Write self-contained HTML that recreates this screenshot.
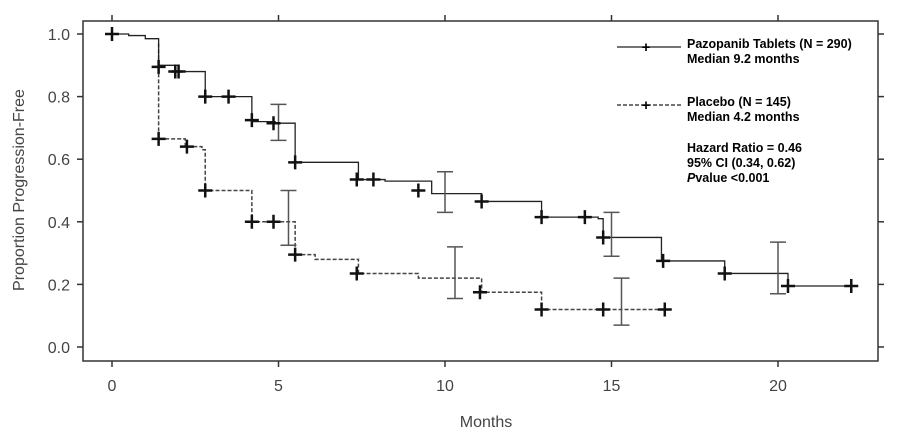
<!DOCTYPE html>
<html><head><meta charset="utf-8"><style>
body{margin:0;background:#fff}
svg{display:block;font-family:"Liberation Sans",Arial,sans-serif}
.ax{font-size:16px;fill:#444}
.lg{font-size:12.5px;font-weight:bold;fill:#000}
</style></head><body>
<svg id="chart" width="900" height="445" viewBox="0 0 900 445">
<rect x="83" y="21" width="795" height="340" fill="none" stroke="#333" stroke-width="1.5"/>
<g id="axes"></g>
<g id="series"></g>
<text class="ax" transform="translate(24,190) rotate(-90)" text-anchor="middle">Proportion Progression-Free</text>
<text class="ax" x="486" y="427" text-anchor="middle">Months</text>
<g>
<line x1="617" y1="47" x2="681" y2="47" stroke="#222" stroke-width="1.3"/>
<text x="646" y="52" text-anchor="middle" font-size="15" font-weight="bold">+</text>
<text class="lg" x="687" y="48">Pazopanib Tablets (N = 290)</text>
<text class="lg" x="687" y="63">Median 9.2 months</text>
<line x1="617" y1="105" x2="681" y2="105" stroke="#222" stroke-width="1.3" stroke-dasharray="4,2"/>
<text x="646" y="110" text-anchor="middle" font-size="15" font-weight="bold">+</text>
<text class="lg" x="687" y="106">Placebo (N = 145)</text>
<text class="lg" x="687" y="121">Median 4.2 months</text>
<text class="lg" x="687" y="152">Hazard Ratio = 0.46</text>
<text class="lg" x="687" y="167">95% CI (0.34, 0.62)</text>
<text class="lg" x="687" y="182"><tspan font-style="italic">P</tspan>value &lt;0.001</text>
</g>
</svg>
<script>
const xTicks=[0,5,10,15,20];
const yTicks=[0.0,0.2,0.4,0.6,0.8,1.0];
const yTickLabels=["0.0","0.2","0.4","0.6","0.8","1.0"];
const pazTimes=[0,0.5,1.0,1.4,2.0,2.8,4.2,4.9,5.5,7.4,8.2,9.6,11.1,12.9,14.6,14.75,16.5,18.4,20.3];
const pazValues=[1.0,0.995,0.985,0.90,0.88,0.80,0.72,0.715,0.59,0.535,0.53,0.49,0.465,0.415,0.41,0.35,0.275,0.235,0.195];
const pazEnd=22.2;
const pazCensorT=[0,1.4,1.9,2.0,2.8,3.5,4.2,4.85,5.5,7.35,7.85,9.2,11.1,12.9,14.2,14.75,16.55,18.4,20.3,22.2];
const pazCensorV=[1.0,0.895,0.88,0.88,0.80,0.80,0.725,0.715,0.59,0.535,0.535,0.50,0.465,0.415,0.415,0.35,0.275,0.235,0.195,0.195];
const pazErrX=[5.0,10.0,15.0,20.0];
const pazErrLo=[0.66,0.43,0.29,0.17];
const pazErrHi=[0.775,0.56,0.43,0.335];
const plaTimes=[1.4,1.4,2.2,2.7,2.8,4.2,5.5,6.1,7.4,9.2,11.1,12.9];
const plaValues=[0.97,0.665,0.64,0.63,0.50,0.40,0.295,0.28,0.235,0.22,0.175,0.12];
const plaEnd=16.6;
const plaCensorT=[1.4,2.25,2.8,4.2,4.85,5.5,7.35,11.05,12.9,14.75,16.6];
const plaCensorV=[0.665,0.64,0.50,0.40,0.40,0.295,0.235,0.175,0.12,0.12,0.12];
const plaErrX=[5.3,10.3,15.3];
const plaErrLo=[0.325,0.155,0.07];
const plaErrHi=[0.50,0.32,0.22];

const NS="http://www.w3.org/2000/svg";
const X=t=>112+t*33.3;
const Y=v=>347-v*313;
function mk(tag,attrs,parent){const e=document.createElementNS(NS,tag);for(const k in attrs)e.setAttribute(k,attrs[k]);parent.appendChild(e);return e;}
const axes=document.getElementById('axes'), ser=document.getElementById('series');
xTicks.forEach(t=>{
  let l=mk('line',{x1:X(t),x2:X(t),y1:361,y2:367,stroke:'#333','stroke-width':1.5},axes);
  
  
  let l2=mk('line',{x1:X(t),x2:X(t),y1:15,y2:21,stroke:'#333','stroke-width':1.5},axes);
  
  
  let tx=mk('text',{x:X(t),y:391,'text-anchor':'middle',class:'ax'},axes);tx.textContent=t;
  
  
});
yTicks.forEach((v,i)=>{
  let l=mk('line',{x1:77,x2:83,y1:Y(v),y2:Y(v),stroke:'#333','stroke-width':1.5},axes);
  
  
  let l2=mk('line',{x1:878,x2:884,y1:Y(v),y2:Y(v),stroke:'#333','stroke-width':1.5},axes);
  
  
  let tx=mk('text',{x:70,y:Y(v)+6,'text-anchor':'end',class:'ax'},axes);tx.textContent=yTickLabels[i];
  
  
});
function stepPath(ts,vs,end){let d=`M${X(ts[0])},${Y(vs[0])}`;for(let i=1;i<ts.length;i++){d+=`H${X(ts[i])}V${Y(vs[i])}`;}d+=`H${X(end)}`;return d;}
function series(name,ts,vs,end,ct,cv,ex,elo,ehi,dash){
  let p=mk('path',{d:stepPath(ts,vs,end),fill:'none',stroke:dash?'#444':'#222','stroke-width':dash?1.5:1.3},ser);
  if(dash)p.setAttribute('stroke-dasharray','4,2');
  
  
  ex.forEach((x,i)=>{
    let g=mk('path',{d:`M${X(x)},${Y(elo[i])}V${Y(ehi[i])}M${X(x)-8},${Y(elo[i])}H${X(x)+8}M${X(x)-8},${Y(ehi[i])}H${X(x)+8}`,fill:'none',stroke:'#555','stroke-width':1.5},ser);
    
    
  });
  ct.forEach((t,i)=>{
    let m=mk('path',{d:`M${X(t)-7},${Y(cv[i])}H${X(t)+7}M${X(t)},${Y(cv[i])-7}V${Y(cv[i])+7}`,stroke:'#111','stroke-width':2.5},ser);
    
    
  });
}
series('placebo',plaTimes,plaValues,plaEnd,plaCensorT,plaCensorV,plaErrX,plaErrLo,plaErrHi,true);
series('pazopanib',pazTimes,pazValues,pazEnd,pazCensorT,pazCensorV,pazErrX,pazErrLo,pazErrHi,false);
</script>
</body></html>
